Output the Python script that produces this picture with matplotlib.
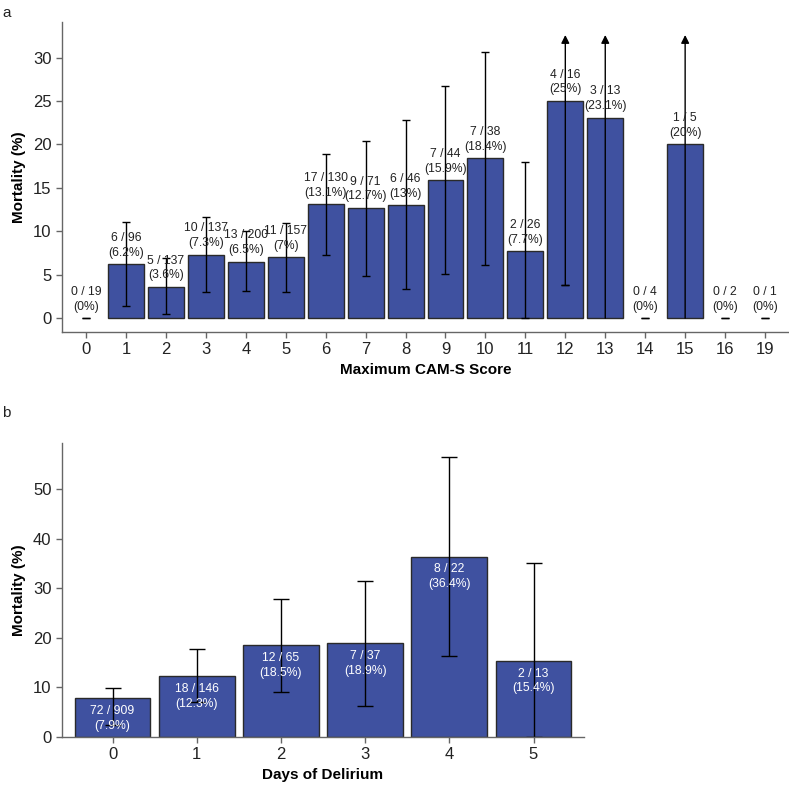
import matplotlib.pyplot as plt
import numpy as np

plt.rcParams['font.family'] = ['Liberation Sans', 'DejaVu Sans']

# panel a: maximum CAM-S score
scores = ['0', '1', '2', '3', '4', '5', '6', '7', '8', '9', '10', '11', '12', '13', '14', '15', '16', '19']
deaths_a = [0, 6, 5, 10, 13, 11, 17, 9, 6, 7, 7, 2, 4, 3, 0, 1, 0, 0]
totals_a = [19, 96, 137, 137, 200, 157, 130, 71, 46, 44, 38, 26, 16, 13, 4, 5, 2, 1]
pct_a = [0, 6.2, 3.6, 7.3, 6.5, 7, 13.1, 12.7, 13, 15.9, 18.4, 7.7, 25, 23.1, 0, 20, 0, 0]
lo_a = [0, 1.4, 0.5, 3.0, 3.1, 3.0, 7.3, 4.9, 3.3, 5.1, 6.1, 0, 3.8, 0, 0, 0, 0, 0]
hi_a = [0, 11.1, 6.9, 11.6, 10.0, 11.0, 18.9, 20.4, 22.8, 26.7, 30.7, 18.0, 46.2, 46.0, 0, 55.1, 0, 0]

# panel b: days of delirium
days = ['0', '1', '2', '3', '4', '5']
deaths_b = [72, 18, 12, 7, 8, 2]
totals_b = [909, 146, 65, 37, 22, 13]
pct_b = [7.9, 12.3, 18.5, 18.9, 36.4, 15.4]
lo_b = [2.5, 7.0, 9.0, 6.3, 16.3, 0]
hi_b = [9.8, 17.7, 27.9, 31.5, 56.5, 35.0]

bar_color = '#3f51a0'
edge = '#2a2a2a'
spine_col = '#666666'


def style(ax):
    for s in ['top', 'right']:
        ax.spines[s].set_visible(False)
    for s in ['left', 'bottom']:
        ax.spines[s].set_color(spine_col)
        ax.spines[s].set_linewidth(1.0)
    ax.tick_params(axis='both', colors=spine_col, labelcolor='#222222',
                   labelsize=12, length=4, width=1, direction='out')


def draw_errors(ax, x, pct, lo, hi, ytop, capsize):
    for xi, p, l, h in zip(x, pct, lo, hi):
        if h > ytop:
            # upper bound off the scale -> arrow
            ax.annotate('', xy=(xi, ytop - 1.5), xytext=(xi, l),
                        arrowprops=dict(arrowstyle='-|>', color='black', lw=1,
                                        mutation_scale=12, shrinkA=0, shrinkB=0))
            if l > 0:
                ax.errorbar([xi], [l], yerr=[[0], [0]], fmt='none', ecolor='black',
                            capsize=capsize, elinewidth=1, capthick=1)
        else:
            ax.errorbar([xi], [p], yerr=[[p - l], [h - p]], fmt='none', ecolor='black',
                        capsize=capsize, elinewidth=1, capthick=1)


fig = plt.figure(figsize=(7.89, 7.85), dpi=100)

# ---- a ----
ax1 = fig.add_axes([0.0786, 0.577, 0.9214, 0.395])
x1 = np.arange(len(scores))
lw_a = [1 if p > 0 else 0 for p in pct_a]
ax1.bar(x1, pct_a, width=0.9, color=bar_color, edgecolor=edge, linewidth=lw_a, zorder=2)
ytop_a = 34.1
draw_errors(ax1, x1, pct_a, lo_a, hi_a, ytop_a, 3)
for xi, d, n, p in zip(x1, deaths_a, totals_a, pct_a):
    ax1.annotate('%d / %d\n(%g%%)' % (d, n, p), xy=(xi, p), xytext=(0, 4),
                 textcoords='offset points', ha='center', va='bottom',
                 fontsize=8.7, color='#222222', linespacing=1.3)
ax1.set_xlim(-0.6, 17.6)
ax1.set_ylim(-1.6, ytop_a)
ax1.set_xticks(x1)
ax1.set_xticklabels(scores)
ax1.set_yticks([0, 5, 10, 15, 20, 25, 30])
ax1.set_xlabel('Maximum CAM-S Score', fontsize=11, fontweight='bold', labelpad=4)
ax1.set_ylabel('Mortality (%)', fontsize=11, fontweight='bold', labelpad=5)
style(ax1)

# ---- b ----
ax2 = fig.add_axes([0.0786, 0.0611, 0.6616, 0.3746])
x2 = np.arange(len(days))
ax2.bar(x2, pct_b, width=0.9, color=bar_color, edgecolor=edge, linewidth=1, zorder=2)
ytop_b = 59.3
draw_errors(ax2, x2, pct_b, lo_b, hi_b, ytop_b, 6)
for xi, d, n, p in zip(x2, deaths_b, totals_b, pct_b):
    ax2.annotate('%d / %d\n(%g%%)' % (d, n, p), xy=(xi, p), xytext=(0, -5),
                 textcoords='offset points', ha='center', va='top',
                 fontsize=8.7, color='white', linespacing=1.3, zorder=4)
ax2.set_xlim(-0.6, 5.6)
ax2.set_ylim(0, ytop_b)
ax2.set_xticks(x2)
ax2.set_xticklabels(days)
ax2.set_yticks([0, 10, 20, 30, 40, 50])
ax2.set_xlabel('Days of Delirium', fontsize=11, fontweight='bold', labelpad=4)
ax2.set_ylabel('Mortality (%)', fontsize=11, fontweight='bold', labelpad=5)
style(ax2)

fig.text(0.003, 0.992, 'a', fontsize=11, va='top', ha='left', color='#222222')
fig.text(0.003, 0.483, 'b', fontsize=11, va='top', ha='left', color='#222222')

fig.savefig('out.png', dpi=100)
